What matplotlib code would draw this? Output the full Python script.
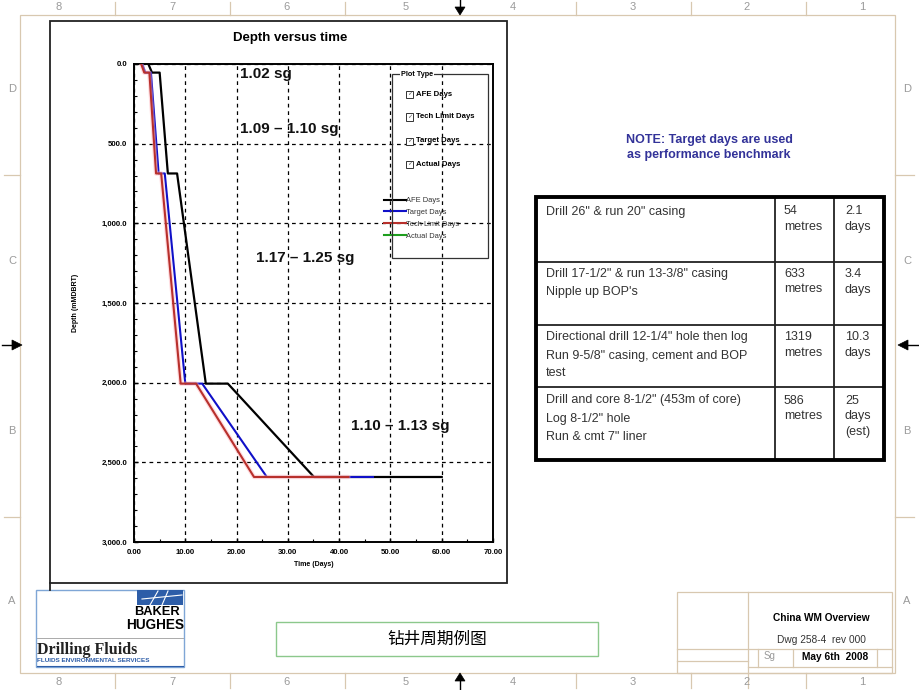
import matplotlib
matplotlib.use("Agg")
import matplotlib.pyplot as plt
from matplotlib.lines import Line2D
from matplotlib.patches import Rectangle, Polygon
from matplotlib.ticker import FuncFormatter, MultipleLocator

plt.rcParams['font.family'] = ['Liberation Sans', 'Noto Sans CJK SC', 'DejaVu Sans']

# ---------------- data ----------------
afe_days = [2.8, 3.5, 5.0, 6.6, 8.4, 14.0, 18.3, 35.1, 60.0]
afe_depth = [0, 54, 54, 687, 687, 2006, 2006, 2592, 2592]
target_days = [1.6, 2.2, 3.3, 4.8, 6.0, 10.0, 13.3, 25.9, 46.6]
target_depth = [0, 54, 54, 687, 687, 2006, 2006, 2592, 2592]
tech_days = [1.4, 2.0, 3.0, 4.3, 5.3, 9.1, 12.1, 23.4, 41.8]
tech_depth = [0, 54, 54, 687, 687, 2006, 2006, 2592, 2592]
actual_days = []
actual_depth = []

series_labels = ["AFE Days", "Target Days", "Tech Limit Days", "Actual Days"]
plot_type_labels = ["AFE Days", "Tech Limit Days", "Target Days", "Actual Days"]

x_ticks = [0, 10, 20, 30, 40, 50, 60, 70]
y_ticks = [0, 500, 1000, 1500, 2000, 2500, 3000]

mud_labels = ["1.02 sg", "1.09 \u2013 1.10 sg", "1.17 \u2013 1.25 sg", "1.10 \u2013 1.13 sg"]
mud_days = [20.6, 20.6, 23.8, 42.3]
mud_depth = [65, 406, 1215, 2275]

table_desc = [
    ["Drill 26\" & run 20\" casing"],
    ["Drill 17-1/2\" & run 13-3/8\" casing", "Nipple up BOP's"],
    ["Directional drill 12-1/4\" hole then log", "Run 9-5/8\" casing, cement and BOP", "test"],
    ["Drill and core 8-1/2\" (453m of core)", "Log 8-1/2\" hole", "Run & cmt 7\" liner"],
]
table_metres = ["54", "633", "1319", "586"]
table_days = [["2.1", "days"], ["3.4", "days"], ["10.3", "days"], ["25", "days", "(est)"]]

W, H = 920, 690
fig = plt.figure(figsize=(W / 100, H / 100), dpi=100)
fig.patch.set_facecolor("white")


def fx(x):
    return x / W


def fy(y):
    return 1 - y / H


def fline(xs, ys, color="black", lw=1.0, **kw):
    fig.add_artist(Line2D([fx(x) for x in xs], [fy(y) for y in ys],
                          transform=fig.transFigure, color=color, lw=lw, **kw))


def frect(x0, y0, x1, y1, ec="black", lw=1.0, fc="none", **kw):
    fig.add_artist(Rectangle((fx(x0), fy(y1)), fx(x1) - fx(x0), fy(y0) - fy(y1),
                             transform=fig.transFigure, ec=ec, fc=fc, lw=lw, **kw))


def ftext(x, y, s, **kw):
    kw.setdefault("ha", "left")
    kw.setdefault("va", "center")
    fig.text(fx(x), fy(y), s, **kw)


# ---------------- drawing border ----------------
tan = "#D8C8B0"
grey = "#9A9A9A"
frect(20, 15, 895, 673, ec=tan, lw=0.9)
for xd in [115, 230, 345, 576, 691, 806]:
    fline([xd, xd], [2, 15], color=tan, lw=0.9)
    fline([xd, xd], [673, 688], color=tan, lw=0.9)
for xn, num in zip([59, 172, 287, 406, 513, 633, 747, 862], "87654321"):
    ftext(xn, 7, num, ha="center", color=grey, fontsize=8)
    ftext(xn, 682, num, ha="center", color=grey, fontsize=8)
for yd in [175, 517]:
    fline([4, 20], [yd, yd], color=tan, lw=0.9)
    fline([895, 914], [yd, yd], color=tan, lw=0.9)
for yl, let in zip([89, 261, 431, 601], "DCBA"):
    ftext(12, yl, let, ha="center", color=grey, fontsize=8)
    ftext(907, yl, let, ha="center", color=grey, fontsize=8)

# arrows
for poly, stem in [
    ([(455, 7), (465, 7), (460, 15)], ([460, 460], [0, 8])),
    ([(455, 681), (465, 681), (460, 673)], ([460, 460], [680, 690])),
    ([(12, 340), (12, 350), (22, 345)], ([2, 13], [345, 345])),
    ([(908, 340), (908, 350), (898, 345)], ([907, 918], [345, 345])),
]:
    fig.add_artist(Polygon([(fx(a), fy(b)) for a, b in poly], closed=True,
                           transform=fig.transFigure, fc="black", ec="black", lw=0.5))
    fline(stem[0], stem[1], color="black", lw=1.0)

# ---------------- chart panel ----------------
frect(50, 21, 507, 583, ec="#222222", lw=1.3)
fline([50, 50], [583, 590], color="#222222", lw=1.3)
ftext(290, 38, "Depth versus time", ha="center", fontsize=9.5, fontweight="bold")

ax = fig.add_axes([fx(134), fy(542), (493 - 134) / W, (542 - 64) / H])
ax.set_facecolor("none")
ax.set_xlim(0, 70)
ax.set_ylim(3000, 0)

ax.plot(afe_days, afe_depth, color="black", lw=1.6, zorder=3)
ax.plot(target_days, target_depth, color="#1010C8", lw=1.5, zorder=4)
ax.plot(tech_days, tech_depth, color="#FFB0B8", lw=3.2, alpha=0.45, zorder=4.5,
        solid_capstyle="round")
ax.plot(tech_days, tech_depth, color="#B8302C", lw=1.5, zorder=5)
ax.plot(actual_days, actual_depth, color="#1E9E1E", lw=1.5, zorder=6)

ax.set_xticks(x_ticks)
ax.set_yticks(y_ticks)
ax.xaxis.set_minor_locator(MultipleLocator(5))
ax.yaxis.set_minor_locator(MultipleLocator(100))
ax.xaxis.set_major_formatter(FuncFormatter(lambda v, p: f"{v:.2f}"))
ax.yaxis.set_major_formatter(FuncFormatter(lambda v, p: f"{v:,.1f}"))
ax.tick_params(which="both", direction="in", color="black")
ax.tick_params(which="major", length=3, width=1.0, labelsize=5.6, pad=5)
ax.tick_params(which="minor", length=2, width=0.8)
for lab in ax.get_xticklabels() + ax.get_yticklabels():
    lab.set_fontweight("bold")
ax.grid(True, which="major", color="black", lw=0.9, ls=(0, (3, 3)))
for s in ax.spines.values():
    s.set_linewidth(1.4)
ax.set_xlabel("Time (Days)", fontsize=5, fontweight="bold", labelpad=4)
ax.set_ylabel("Depth (mMDBRT)", fontsize=5, fontweight="bold", labelpad=16)

for lab, d, dep in zip(mud_labels, mud_days, mud_depth):
    ax.text(d, dep, lab, fontsize=11, fontweight="bold", ha="left", va="center",
            color="#111111", zorder=7)

# plot type box
frect(392, 74, 488, 258, ec="#333333", lw=0.9, zorder=8)
ftext(401, 75, "Plot Type", fontsize=5.2, fontweight="bold",
      bbox=dict(fc="white", ec="none", pad=0.8), zorder=9)
for yc, lab in zip([94, 117, 141, 164], plot_type_labels):
    frect(406, yc - 3.5, 413, yc + 3.5, ec="#333333", lw=0.7, fc="white", zorder=9)
    ftext(409.5, yc, "\u2713", ha="center", fontsize=4.5, color="#555555",
          family=["DejaVu Sans"], zorder=10)
    ftext(416, yc, lab, fontsize=5.6, fontweight="bold", zorder=10)

handles = [Line2D([], [], color=c, lw=1.5) for c in ["black", "#1010C8", "#B8302C", "#1E9E1E"]]
leg = ax.legend(handles, series_labels, loc="upper left",
                bbox_to_anchor=(fx(384), fy(197)), bbox_transform=fig.transFigure,
                frameon=False, fontsize=5.4, handlelength=2.9, handletextpad=0.0,
                labelspacing=0.6, borderpad=0, borderaxespad=0)
for t in leg.get_texts():
    t.set_color("#333333")

# ---------------- note + table ----------------
ftext(709, 140, "NOTE: Target days are used", ha="center", fontsize=9,
      fontweight="bold", color="#333399")
ftext(709, 155, "as performance benchmark", ha="center", fontsize=9,
      fontweight="bold", color="#333399")

frect(536, 197, 884, 460, ec="black", lw=2.8, zorder=3)
for yr in [262, 325, 387]:
    fline([536, 884], [yr, yr], color="#222222", lw=1.3)
for xc in [775, 834]:
    fline([xc, xc], [197, 460], color="#222222", lw=1.3)

row_tops = [211.5, 274, 337.5, 400.5]
line_gap = 18
tcol = "#333333"
for i, top in enumerate(row_tops):
    for j, s in enumerate(table_desc[i]):
        ftext(546, top + j * line_gap, s, fontsize=9, color=tcol)
    ftext(784, top, table_metres[i], fontsize=9, color=tcol)
    ftext(784, top + 15.5, "metres", fontsize=9, color=tcol)
    for j, s in enumerate(table_days[i]):
        ftext(845, top + j * 15.5, s, fontsize=9, color=tcol)

# ---------------- title block ----------------
frect(677, 592, 892, 673, ec=tan, lw=0.9)
fline([748, 748], [592, 688], color=tan, lw=0.9)
fline([677, 892], [649, 649], color=tan, lw=0.9)
fline([677, 748], [661, 661], color=tan, lw=0.9)
fline([758, 758], [649, 667], color=tan, lw=0.9)
fline([793, 793], [649, 667], color=tan, lw=0.9)
fline([877, 877], [649, 667], color=tan, lw=0.9)
fline([748, 892], [667, 667], color=tan, lw=0.9)
ftext(821, 618, "China WM Overview", ha="center", fontsize=7.3, fontweight="bold")
ftext(821, 640, "Dwg 258-4  rev 000", ha="center", fontsize=7.3, color="#333333")
ftext(770, 656, "Sg", ha="center", fontsize=7, color=grey)
ftext(835, 657, "May 6th  2008", ha="center", fontsize=7.3, fontweight="bold")

# ---------------- chinese caption ----------------
frect(276, 622, 598, 656, ec="#8CC88C", lw=1.0)
ftext(437, 639, "钻井周期例图", ha="center", fontsize=12,
      family=["Noto Sans CJK SC", "DejaVu Sans"])

# ---------------- logo ----------------
frect(36, 590, 184, 667, ec="#7FA6D6", lw=1.0)
frect(137, 590, 183, 605, ec="none", fc="#2D5DA8")
for (a, b), (c, d) in [((150, 605), (158, 591)), ((162, 605), (168, 591)),
                       ((142, 599), (182, 595))]:
    fline([a, c], [b, d], color="white", lw=0.8)
ftext(180, 612, "BAKER", ha="right", fontsize=9.3, fontweight="bold")
ftext(184, 625, "HUGHES", ha="right", fontsize=9.8, fontweight="bold")
fline([37, 183], [638, 638], color="#AAAAAA", lw=0.7)
ftext(37, 650, "Drilling Fluids", fontsize=11.5, fontweight="bold",
      family=["Liberation Serif"], color="#222222")
ftext(37, 661, "FLUIDS ENVIRONMENTAL SERVICES", fontsize=4.6, fontweight="bold",
      color="#2D5DA8")
fline([37, 183], [666, 666], color="#2D5DA8", lw=0.8)

fig.savefig("out.png", dpi=100)
